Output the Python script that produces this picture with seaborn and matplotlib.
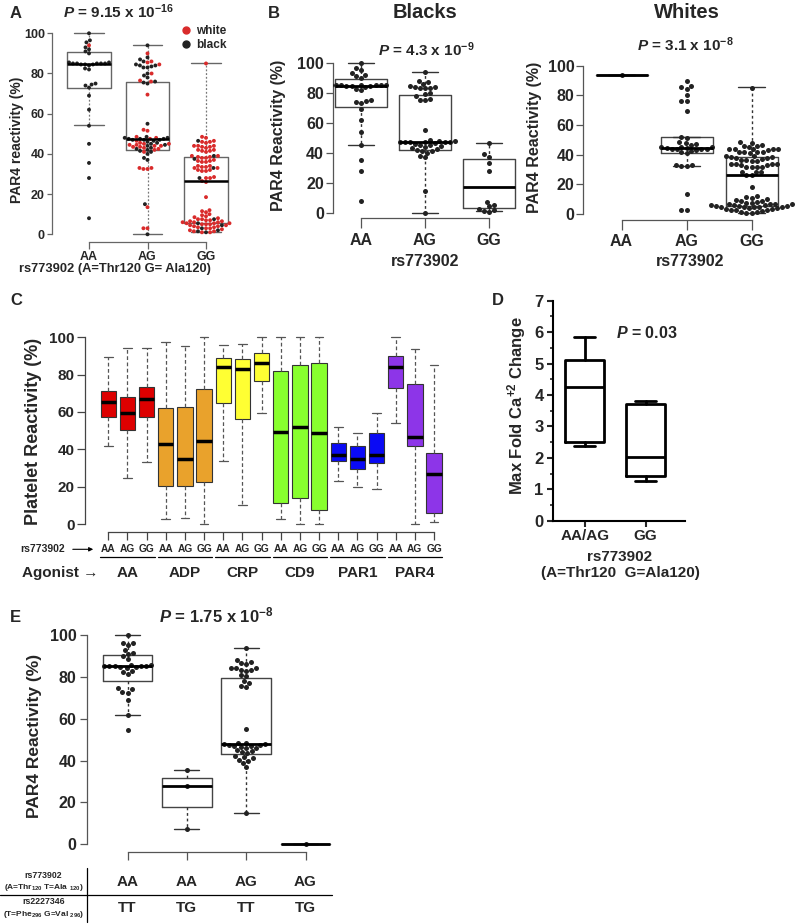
"""
PAR4 reactivity by rs773902 genotype, panels A-E
"""

import numpy as np
import pandas as pd
import matplotlib
matplotlib.use("Agg")
import matplotlib.pyplot as plt
from matplotlib.lines import Line2D
from matplotlib.patches import FancyArrowPatch
from matplotlib.transforms import blended_transform_factory
from matplotlib.ticker import MultipleLocator
import seaborn as sns

# ── Data ──────────────────────────────────────────────────────────────────────
genotypes = ["AA", "AG", "GG"]

blacks_aa = [100, 96.5, 95.5, 93, 92, 91, 90, 85.5, 85.5, 85, 85, 85, 85, 85, 84.5, 84.5,
             84.5, 84, 82.5, 82, 75, 74.5, 74, 73, 69, 62, 54, 45, 35.5, 28, 8]
blacks_ag = [94, 88, 87, 86, 84.5, 84, 84, 83.5, 83, 83, 80, 79, 78, 76, 75.5, 75, 55,
             48.5, 48, 48, 47.5, 47.5, 47.5, 47, 47, 47, 46.5, 46, 45.5, 45, 44.5,
             44, 43, 42.5, 42, 41.5, 41, 40, 38, 37, 15, 0]
blacks_gg = [46.5, 39, 37.5, 33, 28, 7.5, 5.5, 4.5, 3, 2, 1.5, 1]

whites_aa = [94]
whites_ag = [90, 86, 85.5, 84.5, 80, 76.5, 76, 69.5, 52, 51.5, 48.5, 48, 47.5, 46.5,
             45.5, 45, 45, 44.5, 44.5, 44, 44, 43.5, 43.5, 43, 42.5, 42, 41,
             33, 33, 32.5, 32.5, 13.5, 3, 3]
whites_gg = [85, 48.5, 48, 46.5, 46, 46, 45.5, 44, 44, 44, 43.5, 43.5, 43, 42, 42, 41.5,
             41.5, 41, 39, 39, 38.5, 38.5, 38, 38, 37, 36.5, 36.5, 36, 36, 34, 34, 33.5,
             33.5, 33, 33, 32, 32, 31.5, 31.5, 28.5, 28, 28, 26.5, 26, 18.5, 12, 11.5,
             11, 10, 9.5, 9, 8.5, 8, 7.5, 7.5, 7, 7, 6.5, 6.5, 6, 6, 6, 5.5, 5.5, 5.5,
             5, 5, 5, 4.5, 4.5, 4, 4, 3.5, 3.5, 3, 3, 2.5, 2, 1.5, 1.5, 1, 1]

# box statistics: q1, median, q3, lower whisker, upper whisker
a_q1, a_med, a_q3 = [73, 41.9, 5.8], [84.5, 47.3, 26.5], [90.5, 75.6, 38.3]
a_lo, a_hi = [54.5, 0, 1], [100, 94.2, 85.4]

blk_q1, blk_med, blk_q3 = [70.5, 41.8, 3.1], [84.5, 47, 17.6], [89, 78.7, 36.2]
blk_lo, blk_hi = [45, 0, 1.2], [100, 94, 46.5]

wht_q1, wht_med, wht_q3 = [94, 41.2, 5.6], [94, 44.7, 26.5], [94, 51.7, 38.6]
wht_lo, wht_hi = [94, 32.4, 1], [94, 51.7, 85.4]

agonists = ["AA", "ADP", "CRP", "CD9", "PAR1", "PAR4"]
c_q1 = [57.5, 50.4, 57.1, 20.4, 20.4, 22.3, 65, 56.4, 76.8, 11.1, 13.9, 7.5,
        33.8, 29.6, 32.9, 72.7, 41.9, 5.7]
c_med = [65.4, 59.3, 66.8, 42.9, 35, 44.6, 83.9, 82.9, 86.1, 49.3, 52.1, 48.6,
         37.1, 35, 37.1, 84.3, 46.8, 26.6]
c_q3 = [71.4, 68.2, 73.6, 62.1, 62.5, 72.1, 88.9, 88.2, 91.4, 81.8, 85.4, 86.4,
        43.6, 41.8, 48.6, 90, 75.2, 38.2]
c_lo = [41.8, 24.6, 33.4, 2.5, 3.2, 0, 33.8, 10, 59.6, 2.5, 0, 0,
        23.2, 20, 18.8, 54.3, 0, 1]
c_hi = [89.6, 94.1, 94.1, 97.5, 95.4, 100, 95.7, 96.6, 100, 100, 100, 100,
        52.1, 48.9, 59.6, 100, 93.9, 85]

d_groups = ["AA/AG", "GG"]
d_q1, d_med, d_q3 = [2.49, 1.43], [4.26, 2.04], [5.11, 3.71]
d_lo, d_hi = [2.39, 1.26], [5.83, 3.81]

e_rs773902 = ["AA", "AA", "AG", "AG"]
e_rs2227346 = ["TT", "TG", "TT", "TG"]
e_aa_tt = [100, 96, 96, 95, 93, 91.5, 91, 90, 88.5, 85.5, 85.5, 85, 85, 85, 85, 85,
           84.5, 84.5, 84, 83, 82.5, 81.5, 74.5, 74, 73, 72.5, 69, 62, 54.5]
e_aa_tg = [35.5, 28, 7.5]
e_ag_tt = [94, 88, 87, 86.5, 86, 84, 84, 84, 83.5, 83.5, 83, 81, 80.5, 78, 77, 75.5, 75,
           55, 48.5, 48.5, 48, 48, 47.5, 47.5, 47, 47, 46.5, 46, 46, 45, 44.5, 44, 43.5,
           42, 41.5, 41, 40.5, 40, 39, 37, 15]
e_ag_tg = [0]
e_q1, e_med, e_q3 = [78, 18, 43, 0], [85, 28, 47.8, 0], [90.5, 31.5, 79.3, 0]
e_lo, e_hi = [61.6, 7.5, 15, 0], [100, 35.5, 94, 0]

# ── Style ─────────────────────────────────────────────────────────────────────
RED = "#d92b2b"
DARK = "#222222"
C_COLORS = ["#dd0000", "#e9a22c", "#ffff33", "#88ff2e", "#0a0af5", "#8d35e8"]
STEP = 0.6   # category spacing in data units (lets wide swarms spread)

sns.set_style("ticks")
plt.rcParams.update({
    "font.family": ["Liberation Sans", "DejaVu Sans"],
    "font.weight": "bold",
    "axes.labelweight": "bold",
    "mathtext.fontset": "custom",
    "mathtext.rm": "Liberation Sans:bold",
    "mathtext.it": "Liberation Sans:italic:bold",
    "mathtext.bf": "Liberation Sans:bold",
    "axes.linewidth": 0.9,
})

W, H = 795, 924
fig = plt.figure(figsize=(W / 100, H / 100), dpi=100)


def add_ax(left, top, right, bottom):
    return fig.add_axes([left / W, 1 - bottom / H, (right - left) / W, (bottom - top) / H])


def span(p0, v0, p1, v1, e0, e1):
    k = (v1 - v0) / (p1 - p0)
    return v0 + (e0 - p0) * k, v0 + (e1 - p0) * k


def at(ax, px, py):
    bb = ax.get_position()
    return (px / W - bb.x0) / bb.width, (1 - py / H - bb.y0) / bb.height


def ftext(px, py, s, **kw):
    fig.text(px / W, 1 - py / H, s, **kw)


def box_stats(q1, med, q3, lo, hi):
    return [dict(q1=a, med=b, q3=c, whislo=d, whishi=e, fliers=[])
            for a, b, c, d, e in zip(q1, med, q3, lo, hi)]


def swarm(ax, x, vals, size, color=DARK, race=None):
    df = pd.DataFrame({"x": float(x), "y": vals})
    if race is None:
        sns.swarmplot(data=df, x="x", y="y", native_scale=True, orient="x",
                      color=color, size=size, ax=ax, zorder=3, warn_thresh=1)
    else:
        df["race"] = race
        sns.swarmplot(data=df, x="x", y="y", hue="race", native_scale=True, orient="x",
                      palette={"black": DARK, "white": RED}, size=size, legend=False,
                      ax=ax, zorder=3, warn_thresh=1)


def r_axes(ax, xpos, ymax, color, ylen, ypad, ysize, xlen, xpad, xsize, lw=0.9):
    for s in ["top", "right"]:
        ax.spines[s].set_visible(False)
    ax.spines["left"].set_bounds(0, ymax)
    ax.spines["bottom"].set_bounds(xpos[0], xpos[-1])
    for s in ["left", "bottom"]:
        ax.spines[s].set_color(color)
        ax.spines[s].set_linewidth(lw)
    ax.tick_params(axis="y", length=ylen, pad=ypad, labelsize=ysize, color=color, width=lw)
    ax.tick_params(axis="x", length=xlen, pad=xpad, labelsize=xsize, color=color, width=lw)
    ax.set_xlabel("")
    ax.set_ylabel("")


# ═══════════════════════════════════════════════════════════════════════════════
# Panel A – combined, coloured by race
# ═══════════════════════════════════════════════════════════════════════════════
axA = add_ax(52, 20, 240, 242)
posA = np.arange(3) * STEP
axA.bxp(box_stats(a_q1, a_med, a_q3, a_lo, a_hi), positions=posA, widths=0.75 * STEP,
        capwidths=0.5 * STEP, showfliers=False, manage_ticks=False,
        boxprops=dict(color="#666666", lw=1),
        whiskerprops=dict(color="#777777", lw=0.9, ls=(0, (1.5, 1.5))),
        capprops=dict(color="#666666", lw=1),
        medianprops=dict(color="black", lw=1.8, zorder=4))
for p, blk, wht in zip(posA, [blacks_aa, blacks_ag, blacks_gg], [whites_aa, whites_ag, whites_gg]):
    swarm(axA, p, blk + wht, 2.8, race=["black"] * len(blk) + ["white"] * len(wht))
axA.set_xlim(span(89, posA[0], 206, posA[-1], 52, 240))
axA.set_ylim(span(234.3, 0, 33.3, 100, 242, 20))
r_axes(axA, posA, 100, "#666666", 3.6, 1.5, 9, 4.8, 2, 9)
axA.set_yticks(range(0, 101, 20))
axA.set_xticks(posA, genotypes)
axA.set_ylabel("PAR4 reactivity (%)", fontsize=10, va="center")
axA.yaxis.set_label_coords(*at(axA, 17, 140))
axA.set_xlabel("rs773902 (A=Thr120 G= Ala120)", fontsize=9.3, va="center")
axA.xaxis.set_label_coords(*at(axA, 115, 269))
handles = [Line2D([], [], marker="o", ls="", color=RED, markersize=5),
           Line2D([], [], marker="o", ls="", color=DARK, markersize=5)]
axA.legend(handles, ["white", "black"], loc="upper left", bbox_to_anchor=(182 / W, 1 - 25 / H),
           bbox_transform=fig.transFigure, frameon=False, handlelength=0.7, handletextpad=0.5,
           borderpad=0, borderaxespad=0, labelspacing=0.2, prop=dict(size=8.5, weight="bold"))
ftext(118, 12, r"$P$ = 9.15 x 10$^{-16}$", fontsize=11, ha="center", va="center")
ftext(10, 13, "A", fontsize=12, ha="left", va="center")

# ═══════════════════════════════════════════════════════════════════════════════
# Panel B – Blacks / Whites
# ═══════════════════════════════════════════════════════════════════════════════
b_style = dict(showfliers=False, manage_ticks=False,
               boxprops=dict(color="#444444", lw=1),
               whiskerprops=dict(color="#333333", lw=1, ls=(0, (2, 2))),
               capprops=dict(color="#333333", lw=1),
               medianprops=dict(color="black", lw=2, zorder=4))

axB1 = add_ax(333.3, 40, 520, 218.3)
posB = np.arange(3) * STEP
axB1.bxp(box_stats(blk_q1, blk_med, blk_q3, blk_lo, blk_hi), positions=posB,
         widths=0.82 * STEP, capwidths=0.42 * STEP, **b_style)
for p, vals in zip(posB, [blacks_aa, blacks_ag, blacks_gg]):
    swarm(axB1, p, vals, 3.6)
axB1.set_xlim(span(361, posB[0], 489, posB[-1], 333.3, 520))
axB1.set_ylim(span(213, 0, 63, 100, 218.3, 40))
r_axes(axB1, posB, 100, "#555555", 4.8, 2, 11.5, 7, 3.5, 11.5)
axB1.set_yticks(range(0, 101, 20))
axB1.set_xticks(posB, genotypes)
axB1.set_ylabel("PAR4 Reactivity (%)", fontsize=11.5, va="center")
axB1.yaxis.set_label_coords(*at(axB1, 278.3, 135))
axB1.set_xlabel("rs773902", fontsize=11.5, va="center")
axB1.xaxis.set_label_coords(*at(axB1, 425, 261.7))
ftext(425, 13, "Blacks", fontsize=14.5, ha="center", va="center")
ftext(426.7, 49.3, r"$P$ = 4.3 x 10$^{-9}$", fontsize=11, ha="center", va="center")
ftext(268, 13, "B", fontsize=12, ha="left", va="center")

axB2 = add_ax(583.3, 40, 795, 220)
axB2.bxp(box_stats(wht_q1, wht_med, wht_q3, wht_lo, wht_hi), positions=posB,
         widths=0.8 * STEP, capwidths=0.42 * STEP, **b_style)
for p, vals in zip(posB, [whites_aa, whites_ag, whites_gg]):
    swarm(axB2, p, vals, 3.6)
axB2.set_xlim(span(621.5, posB[0], 751.5, posB[-1], 583.3, 795))
axB2.set_ylim(span(214, 0, 65.7, 100, 220, 40))
r_axes(axB2, posB, 100, "#555555", 4.8, 1.5, 11.5, 7, 3, 11.5)
axB2.set_yticks(range(0, 101, 20))
axB2.set_xticks(posB, genotypes)
axB2.set_ylabel("PAR4 Reactivity (%)", fontsize=11.5, va="center")
axB2.yaxis.set_label_coords(*at(axB2, 535, 137.5))
axB2.set_xlabel("rs773902", fontsize=11.5, va="center")
axB2.xaxis.set_label_coords(*at(axB2, 690, 261.7))
ftext(686.7, 13, "Whites", fontsize=14.5, ha="center", va="center")
ftext(685, 45, r"$P$ = 3.1 x 10$^{-8}$", fontsize=11, ha="center", va="center")

# ═══════════════════════════════════════════════════════════════════════════════
# Panel C – platelet reactivity by agonist
# ═══════════════════════════════════════════════════════════════════════════════
axC = add_ax(85, 330, 445, 531.7)
posC = np.arange(len(c_q1))
bpC = axC.bxp(box_stats(c_q1, c_med, c_q3, c_lo, c_hi), positions=posC, widths=0.8,
              capwidths=0.45, showfliers=False, manage_ticks=False, patch_artist=True,
              boxprops=dict(edgecolor="#333333", lw=0.8),
              whiskerprops=dict(color="#555555", lw=0.9, ls=(0, (3, 2))),
              capprops=dict(color="#555555", lw=0.9),
              medianprops=dict(color="black", lw=2.5))
for i, patch in enumerate(bpC["boxes"]):
    patch.set_facecolor(C_COLORS[i // 3])
axC.set_xlim(span(108.3, 0, 434, 17, 85, 445))
axC.set_ylim(span(524, 0, 337.3, 100, 531.7, 330))
r_axes(axC, posC, 100, "#444444", 5.5, 2, 11, 6, 2.5, 7.3)
axC.set_yticks(range(0, 101, 20))
axC.set_xticks(posC, genotypes * len(agonists))
axC.set_ylabel("Platelet Reactivity (%)", fontsize=13, va="center")
axC.yaxis.set_label_coords(*at(axC, 33.3, 431))
blend = blended_transform_factory(axC.transData, axC.transAxes)
y_line = at(axC, 0, 556.7)[1]
y_name = at(axC, 0, 572.7)[1]
for g, name in enumerate(agonists):
    axC.plot([3 * g - 0.42, 3 * g + 2.42], [y_line, y_line], color="black", lw=0.9,
             transform=blend, clip_on=False)
    axC.text(3 * g + 1, y_name, name, transform=blend, ha="center", va="center", fontsize=11)
ftext(20.5, 549.3, "rs773902", fontsize=7.5, ha="left", va="center")
fig.add_artist(FancyArrowPatch((70 / W, 1 - 549.3 / H), (96 / W, 1 - 549.3 / H),
               transform=fig.transFigure, arrowstyle="-|>", mutation_scale=6, lw=0.8, color="black"))
ftext(21.5, 572.7, "Agonist \u2192", fontsize=11, ha="left", va="center")
ftext(10, 301, "C", fontsize=12, ha="left", va="center")

# ═══════════════════════════════════════════════════════════════════════════════
# Panel D – calcium flux
# ═══════════════════════════════════════════════════════════════════════════════
axD = add_ax(553.3, 298, 685, 520.7)
posD = np.arange(2)
axD.bxp(box_stats(d_q1, d_med, d_q3, d_lo, d_hi), positions=posD, widths=0.64,
        capwidths=0.34, showfliers=False, manage_ticks=False,
        boxprops=dict(color="black", lw=2), whiskerprops=dict(color="black", lw=2),
        capprops=dict(color="black", lw=2), medianprops=dict(color="black", lw=2))
axD.set_xlim(span(584.7, 0, 645.7, 1, 553.3, 685))
axD.set_ylim(span(520.7, 0, 300.7, 7, 520.7, 298))
for s in ["top", "right"]:
    axD.spines[s].set_visible(False)
axD.spines["left"].set_bounds(0, 7)
for s in ["left", "bottom"]:
    axD.spines[s].set_linewidth(1.5)
    axD.spines[s].set_color("black")
axD.set_yticks(range(0, 8))
axD.yaxis.set_minor_locator(MultipleLocator(0.5))
axD.tick_params(axis="y", which="major", length=4, width=1.5, pad=3, labelsize=12)
axD.tick_params(axis="y", which="minor", length=2.5, width=1.2)
axD.set_xticks(posD, d_groups)
axD.tick_params(axis="x", length=4, width=1.5, pad=2, labelsize=11)
axD.set_ylabel("Max Fold Ca$^{+2}$ Change", fontsize=12, va="center")
axD.yaxis.set_label_coords(*at(axD, 516.7, 406))
axD.set_xlabel("rs773902\n(A=Thr120  G=Ala120)", fontsize=11, va="center", linespacing=1.15)
axD.xaxis.set_label_coords(*at(axD, 620, 565))
ftext(646.7, 333.3, r"$P$ = 0.03", fontsize=11.5, ha="center", va="center")
ftext(491.7, 301, "D", fontsize=12, ha="left", va="center")

# ═══════════════════════════════════════════════════════════════════════════════
# Panel E – rs773902 x rs2227346 (Blacks)
# ═══════════════════════════════════════════════════════════════════════════════
axE = add_ax(87.3, 600, 335, 852.3)
posE = np.arange(4) * STEP
axE.bxp(box_stats(e_q1, e_med, e_q3, e_lo, e_hi), positions=posE,
        widths=0.84 * STEP, capwidths=0.42 * STEP, **b_style)
for p, vals in zip(posE, [e_aa_tt, e_aa_tg, e_ag_tt, e_ag_tg]):
    swarm(axE, p, vals, 3.6)
axE.set_xlim(span(127.5, posE[0], 305.5, posE[-1], 87.3, 335))
axE.set_ylim(span(844.3, 0, 635, 100, 852.3, 600))
r_axes(axE, posE, 100, "#555555", 5.3, 2.3, 11.5, 6, 2, 11)
axE.set_yticks(range(0, 101, 20))
axE.set_xticks(posE, [""] * 4)
axE.set_ylabel("PAR4 Reactivity (%)", fontsize=12.5, va="center")
axE.yaxis.set_label_coords(*at(axE, 35, 736))
blendE = blended_transform_factory(axE.transData, axE.transAxes)
for p, g1, g2 in zip(posE, e_rs773902, e_rs2227346):
    axE.text(p, at(axE, 0, 881.7)[1], g1, transform=blendE, ha="center", va="center", fontsize=11)
    axE.text(p, at(axE, 0, 908.3)[1], g2, transform=blendE, ha="center", va="center", fontsize=11)
fig.add_artist(Line2D([0, 331.7 / W], [1 - 895 / H] * 2, transform=fig.transFigure,
                      color="black", lw=0.9))
fig.add_artist(Line2D([87.3 / W] * 2, [1 - 868 / H, 1 - 921.7 / H], transform=fig.transFigure,
                      color="black", lw=0.9))
ftext(43.5, 875, "rs773902", fontsize=6.3, ha="center", va="center")
ftext(43.5, 887.5, "(A=Thr$_{120}$ T=Ala $_{120}$)", fontsize=6, ha="center", va="center")
ftext(43.5, 902, "rs2227346", fontsize=6.3, ha="center", va="center")
ftext(43.5, 914.5, "(T=Phe$_{296}$ G=Val $_{296}$)", fontsize=6, ha="center", va="center")
ftext(216.7, 615, r"$P$ = 1.75 x 10$^{-8}$", fontsize=12, ha="center", va="center")
ftext(10, 618, "E", fontsize=12, ha="left", va="center")

fig.savefig("out.png", dpi=100)
plt.close(fig)
